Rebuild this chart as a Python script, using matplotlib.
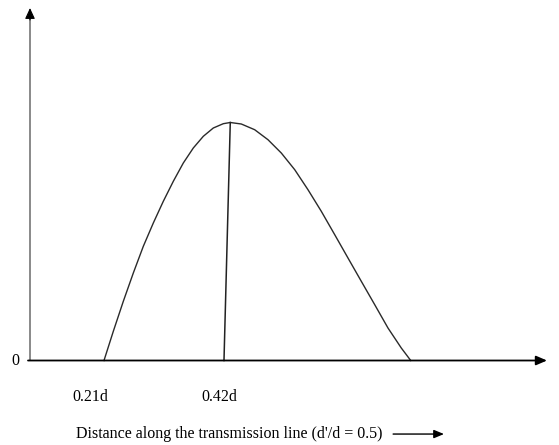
import matplotlib
matplotlib.use("Agg")
import matplotlib.pyplot as plt

# Curve (x in units of d, y relative to peak)
curve_x = [0.2100, 0.2263, 0.2438, 0.2613, 0.2788, 0.2963, 0.3138, 0.3313,
           0.3488, 0.3663, 0.3838, 0.4013, 0.4188, 0.4310,
           0.4503, 0.4737, 0.4970, 0.5203, 0.5438, 0.5670, 0.5903, 0.6138,
           0.6370, 0.6603, 0.6838, 0.7070, 0.7303, 0.7468]
curve_y = [0.0, 0.1227, 0.2487, 0.3676, 0.4798, 0.5777, 0.6689, 0.7529,
           0.8298, 0.8929, 0.9420, 0.9769, 0.9950, 1.0,
           0.9937, 0.9697, 0.9277, 0.8718, 0.8017, 0.7176, 0.6269, 0.5286,
           0.4307, 0.3328, 0.2345, 0.1366, 0.0525, 0.0]

# Vertical marker line from peak to 0.42d
marker_x = [0.4310, 0.42]
marker_y = [1.0, 0.0]

tick_values = [0.21, 0.42]
tick_labels = ["0.21d", "0.42d"]
zero_label = "0"
xlabel_text = "Distance along the transmission line (d'/d = 0.5)"

FONT = "Liberation Serif"
FS = 11.5

fig = plt.figure(figsize=(5.59, 4.45), dpi=100)
ax = fig.add_axes([0, 0, 1, 1])
ax.set_xlim(0.0280, 1.0063)
ax.set_ylim(-0.355, 1.5147)
ax.axis("off")

# axes
y_axis_x = 0.0805
x_axis_start = 0.0770
x_tip = 0.9853
y_tip = 1.481
ax.plot([y_axis_x, y_axis_x], [0, y_tip - 0.03], color="#808080", lw=1.3,
        solid_capstyle="butt")
ax.annotate("", xy=(y_axis_x, y_tip), xytext=(y_axis_x, y_tip - 0.05),
            arrowprops=dict(arrowstyle="-|>,head_length=0.65,head_width=0.3",
                            color="black", lw=0.8, shrinkA=0, shrinkB=0))
ax.annotate("", xy=(x_tip, 0), xytext=(x_axis_start, 0),
            arrowprops=dict(arrowstyle="-|>,head_length=0.65,head_width=0.28",
                            color="black", lw=1.3, shrinkA=0, shrinkB=0))

# curve and marker
ax.plot(curve_x, curve_y, color="#2a2a2a", lw=1.0)
ax.plot(marker_x, marker_y, color="#222222", lw=1.1)

# labels
label_offsets = [-0.0236, -0.0078]
for v, lab, off in zip(tick_values, tick_labels, label_offsets):
    ax.text(v + off, -0.155, lab, ha="center", va="center",
            family=FONT, fontsize=FS)
ax.text(0.0543, 0.0, zero_label, ha="center", va="center",
        family=FONT, fontsize=FS)

ax.text(0.161, -0.309, xlabel_text, ha="left", va="center",
        family=FONT, fontsize=FS)
ax.annotate("", xy=(0.8050, -0.309), xytext=(0.7160, -0.309),
            arrowprops=dict(arrowstyle="-|>,head_length=0.6,head_width=0.25",
                            color="black", lw=1.0, shrinkA=0, shrinkB=0))

fig.savefig("out.png", dpi=100)
